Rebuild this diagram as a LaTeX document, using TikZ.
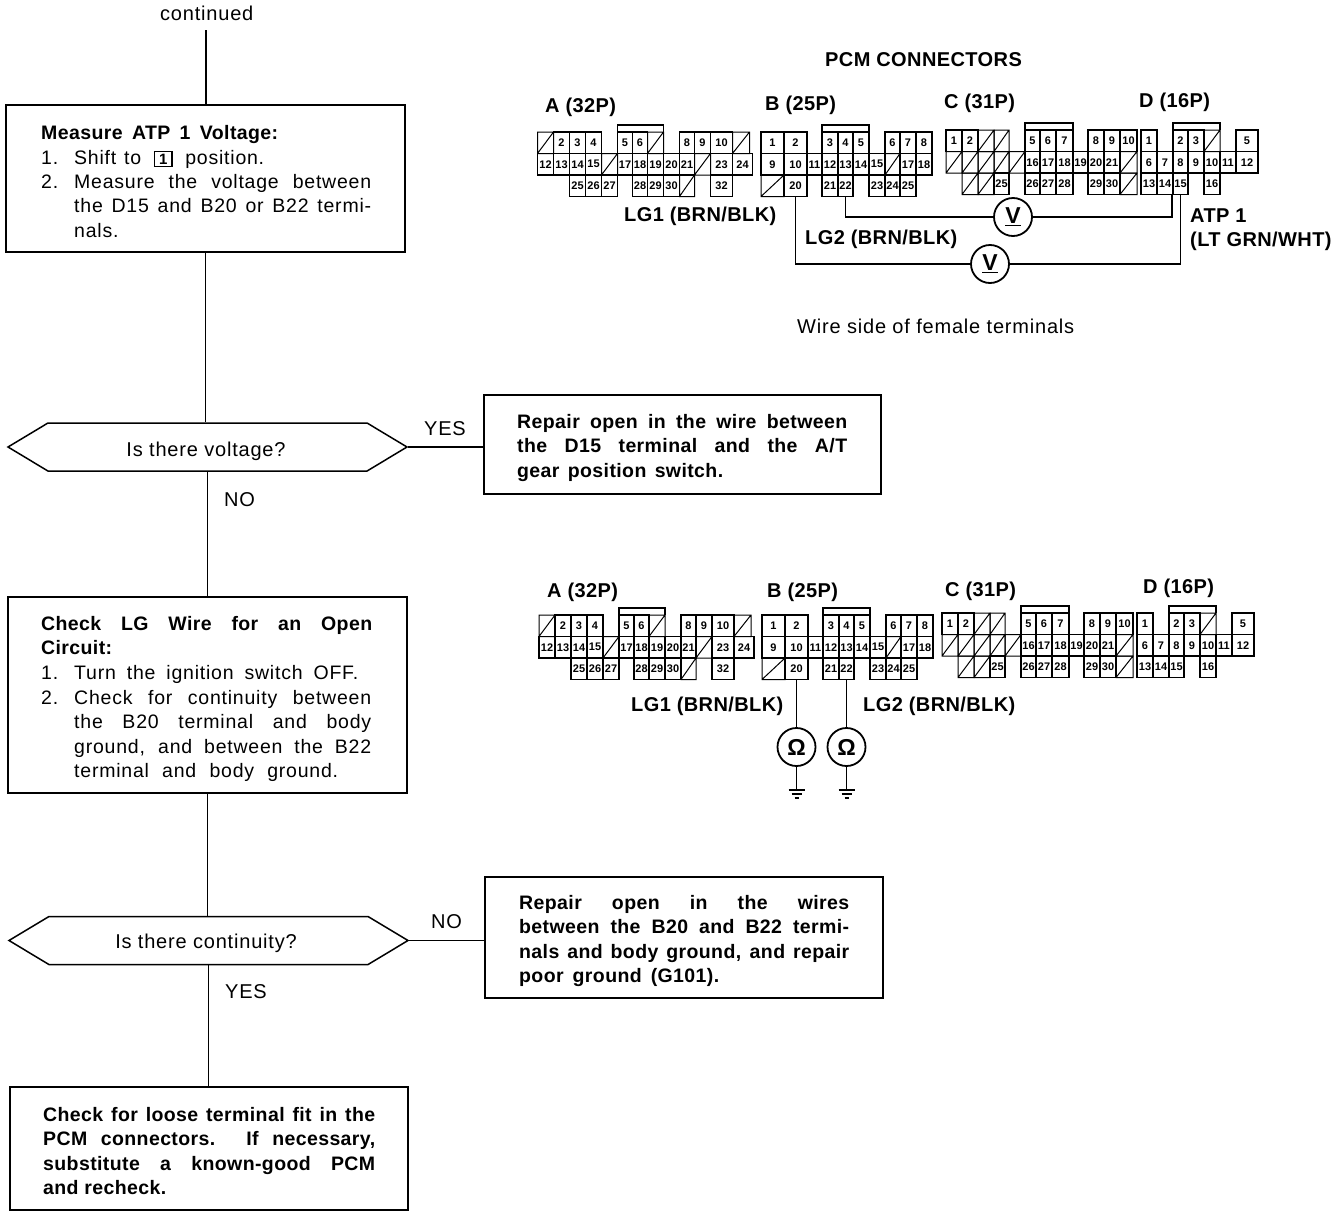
\documentclass[tikz,border=0pt]{standalone}
\usepackage{fontspec}
\setmainfont{Liberation Sans}
\newfontfamily\regx[LetterSpace=4]{Liberation Sans}
\newfontfamily\boldx[LetterSpace=2]{Liberation Sans}
\usetikzlibrary{shapes.symbols,calc}
\tikzset{
  ln/.style={line width=1.8pt,black},
  cellbox/.style={draw,line width=1.5pt,inner sep=0pt,font=\fontsize{11}{11}\bfseries\selectfont},
  slashcell/.style={line width=1pt},
  flowbox/.style={draw,line width=1.6pt,inner sep=0pt},
  decision/.style={draw,line width=1.5pt,signal,signal to=west and east,signal pointer angle=62,minimum width=399pt,minimum height=48pt,inner sep=0pt},
  body/.style={anchor=base west,inner sep=0pt,font=\fontsize{19.5}{24.6}\regx\selectfont},
  bhead/.style={anchor=base west,inner sep=0pt,font=\fontsize{19.5}{24.6}\boldx\bfseries\selectfont},
  jbody/.style={body,align=justify},
  jbold/.style={bhead,align=justify},
  label/.style={anchor=base west,inner sep=0pt,font=\fontsize{20}{24}\boldx\bfseries\selectfont},
  plain/.style={anchor=base west,inner sep=0pt,font=\fontsize{20}{24}\regx\selectfont},
  meter/.style={draw,circle,line width=1.8pt,minimum size=38pt,inner sep=0pt,font=\fontsize{23}{23}\bfseries\selectfont},
}
\newcommand{\cellat}[4]{%
  \pgfmathsetmacro{\cw}{#2-#1}\pgfmathsetmacro{\cx}{(#1+#2)/2}\pgfmathsetmacro{\cy}{(#3-0.5)*21.5}%
  \node[cellbox,minimum width=\cw pt,minimum height=21.5pt] (\cpre-#4) at (\cx,\cy) {#4};}
\newcommand{\slashat}[3]{%
  \pgfmathsetmacro{\ya}{(#3-1)*21.5}\pgfmathsetmacro{\yb}{#3*21.5}%
  \draw[slashcell] (#1,\ya) rectangle (#2,\yb) (#1,\yb) -- (#2,\ya);}
\newcommand{\topbar}[2]{\draw[line width=1.8pt] (#1,0) -- (#1,-7) -- (#2,-7) -- (#2,0);}
\newcommand{\connA}[1]{\def\cpre{#1}%
  \slashat{0}{16}{1}\cellat{16}{32}{1}{2}\cellat{32}{48}{1}{3}\cellat{48}{64}{1}{4}\cellat{80}{95}{1}{5}\cellat{95}{110}{1}{6}\slashat{110}{126}{1}\cellat{142}{157}{1}{8}\cellat{157}{173}{1}{9}\cellat{173}{195}{1}{10}\slashat{195}{212}{1}%
  \cellat{0}{16}{2}{12}\cellat{16}{32}{2}{13}\cellat{32}{48}{2}{14}\cellat{48}{64}{2}{15}\slashat{64}{80}{2}\cellat{80}{95}{2}{17}\cellat{95}{110}{2}{18}\cellat{110}{126}{2}{19}\cellat{126}{142}{2}{20}\cellat{142}{157}{2}{21}\slashat{157}{173}{2}\cellat{173}{195}{2}{23}\cellat{195}{215}{2}{24}%
  \cellat{32}{48}{3}{25}\cellat{48}{64}{3}{26}\cellat{64}{80}{3}{27}\cellat{95}{110}{3}{28}\cellat{110}{126}{3}{29}\cellat{126}{142}{3}{30}\slashat{142}{157}{3}\cellat{173}{195}{3}{32}%
  \topbar{80}{126}}
\newcommand{\connB}[1]{\def\cpre{#1}%
  \cellat{0}{23}{1}{1}\cellat{23}{46}{1}{2}\cellat{61}{77}{1}{3}\cellat{77}{92}{1}{4}\cellat{92}{108}{1}{5}\cellat{124}{139}{1}{6}\cellat{139}{155}{1}{7}\cellat{155}{171}{1}{8}%
  \cellat{0}{23}{2}{9}\cellat{23}{46}{2}{10}\cellat{46}{61}{2}{11}\cellat{61}{77}{2}{12}\cellat{77}{92}{2}{13}\cellat{92}{108}{2}{14}\cellat{108}{124}{2}{15}\slashat{124}{139}{2}\cellat{139}{155}{2}{17}\cellat{155}{171}{2}{18}%
  \slashat{0}{23}{3}\cellat{23}{46}{3}{20}\cellat{61}{77}{3}{21}\cellat{77}{92}{3}{22}\cellat{108}{124}{3}{23}\cellat{124}{139}{3}{24}\cellat{139}{155}{3}{25}%
  \topbar{61}{108}}
\newcommand{\connC}[1]{\def\cpre{#1}%
  \cellat{0}{16}{1}{1}\cellat{16}{32}{1}{2}\slashat{32}{48}{1}\slashat{48}{63}{1}\cellat{79}{94}{1}{5}\cellat{94}{110}{1}{6}\cellat{110}{127}{1}{7}\cellat{142}{158}{1}{8}\cellat{158}{174}{1}{9}\cellat{174}{191}{1}{10}%
  \slashat{0}{16}{2}\slashat{16}{32}{2}\slashat{32}{48}{2}\slashat{48}{63}{2}\slashat{63}{79}{2}\cellat{79}{94}{2}{16}\cellat{94}{110}{2}{17}\cellat{110}{127}{2}{18}\cellat{127}{142}{2}{19}\cellat{142}{158}{2}{20}\cellat{158}{174}{2}{21}\slashat{174}{191}{2}%
  \slashat{16}{32}{3}\slashat{32}{48}{3}\cellat{48}{63}{3}{25}\cellat{79}{94}{3}{26}\cellat{94}{110}{3}{27}\cellat{110}{127}{3}{28}\cellat{142}{158}{3}{29}\cellat{158}{174}{3}{30}\slashat{174}{191}{3}%
  \topbar{79}{127}}
\newcommand{\connD}[1]{\def\cpre{#1}%
  \cellat{0}{16}{1}{1}\cellat{32}{47}{1}{2}\cellat{47}{63}{1}{3}\slashat{63}{79}{1}\cellat{95}{117}{1}{5}%
  \cellat{0}{16}{2}{6}\cellat{16}{32}{2}{7}\cellat{32}{47}{2}{8}\cellat{47}{63}{2}{9}\cellat{63}{79}{2}{10}\cellat{79}{95}{2}{11}\cellat{95}{117}{2}{12}%
  \cellat{0}{16}{3}{13}\cellat{16}{32}{3}{14}\cellat{32}{47}{3}{15}\cellat{63}{79}{3}{16}%
  \topbar{32}{79}}
\newcommand{\groundat}[1]{\draw[line width=1.3pt] ($(#1)+(-8,0)$) -- ($(#1)+(8,0)$) ($(#1)+(-5,4)$) -- ($(#1)+(5,4)$) ($(#1)+(-2,8)$) -- ($(#1)+(2,8)$);}
\begin{document}
\begin{tikzpicture}[x=1pt,y=-1pt]
\useasboundingbox[fill=white] (0,0) rectangle (1344,1218);
% flow boxes
\coordinate (top) at (206,30);
\node[flowbox,minimum width=399pt,minimum height=147pt] (b1) at (205.5,178.5) {};
\node[decision] (q1) at (207.5,447) {};
\node[flowbox,minimum width=397pt,minimum height=99pt] (r1) at (682.5,444.5) {};
\node[flowbox,minimum width=399pt,minimum height=196pt] (b2) at (207.5,695) {};
\node[decision] (q2) at (208.5,940.5) {};
\node[flowbox,minimum width=398pt,minimum height=121pt] (r2) at (684,937.5) {};
\node[flowbox,minimum width=398pt,minimum height=123pt] (b3) at (209,1148.5) {};
\draw[ln] (top) -- (top|-b1.north);
\draw[ln] (b1.south) -- (b1.south|-q1.north);
\draw[ln] (q1.south) -- (q1.south|-b2.north);
\draw[ln] (b2.south) -- (b2.south|-q2.north);
\draw[ln] (q2.south) -- (q2.south|-b3.north);
\draw[ln] (q1.east) -- (q1.east-|r1.west);
\draw[ln] (q2.east) -- (q2.east-|r2.west);
% flow text
\node[plain] (t0) at (160,20) {continued};
\node[bhead] (t1) at (41,139) {\makebox[237pt][s]{Measure ATP 1 Voltage:}};
\node[body] (t1a) at (41,164) {1.};
\node[body] (t1b) at (74,164) {\makebox[190pt][s]{Shift to \hspace{5pt}{\fboxsep=1.5pt\fboxrule=1.2pt\fbox{\fontsize{15}{15}\bfseries\selectfont\,1\,}}\hspace{5pt} position.}};
\node[body] (t1c) at (41,188) {2.};
\node[jbody,text width=297pt] (t1d) at (74,188) {Measure the voltage between\linebreak the D15 and B20 or B22 termi-\linebreak nals.};
\node[plain,anchor=base] (t2) at (206,456) {Is there voltage?};
\node[plain] (t3) at (424,435) {YES};
\node[plain] (t4) at (224,506) {NO};
\node[jbold,text width=330pt] (t5) at (517,428) {Repair open in the wire between\linebreak the D15 terminal and the A/T\linebreak \makebox[206pt][s]{gear position switch.}};
\node[jbold,text width=331pt] (t6) at (41,630) {Check LG Wire for an Open\linebreak Circuit:};
\node[body] (t6a) at (41,679) {1.};
\node[body] (t6b) at (74,679) {\makebox[284pt][s]{Turn the ignition switch OFF.}};
\node[body] (t6c) at (41,704) {2.};
\node[jbody,text width=297pt] (t6d) at (74,704) {Check for continuity between\linebreak the B20 terminal and body\linebreak ground, and between the B22\linebreak \makebox[264pt][s]{terminal and body ground.}};
\node[plain,anchor=base] (t7) at (206,948) {Is there continuity?};
\node[plain] (t8) at (431,928) {NO};
\node[plain] (t9) at (225,998) {YES};
\node[jbold,text width=330pt] (t10) at (519,909) {Repair open in the wires\linebreak between the B20 and B22 termi-\linebreak nals and body ground, and repair\linebreak \makebox[200pt][s]{poor ground (G101).}};
\node[jbold,text width=332pt] (t11) at (43,1121) {Check for loose terminal fit in the\linebreak PCM connectors. If necessary,\linebreak substitute a known-good PCM\linebreak and recheck.};
% upper connectors
\node[label] (h0) at (825,66) {PCM CONNECTORS};
\node[label] (ha1) at (545,112) {A (32P)};
\node[label] (hb1) at (765,110) {B (25P)};
\node[label] (hc1) at (944,108) {C (31P)};
\node[label] (hd1) at (1139,107) {D (16P)};
\begin{scope}[shift={(537.5,132)}]\connA{a1}\end{scope}
\begin{scope}[shift={(761,132)}]\connB{b1}\end{scope}
\begin{scope}[shift={(946,130)}]\connC{c1}\end{scope}
\begin{scope}[shift={(1141,130)}]\connD{d1}\end{scope}
\node[meter] (v1) at (1013,217) {\underline{V}};
\node[meter] (v2) at (990,264) {\underline{V}};
\draw[ln] (b1-22.south) |- (v1.west);
\draw[ln] (v1.east) -| (d1-15.south west);
\draw[ln] (b1-20.south) |- (v2.west);
\draw[ln] (v2.east) -| (d1-15.south);
\node[label] (l1) at (624,221) {LG1 (BRN/BLK)};
\node[label] (l2) at (805,244) {LG2 (BRN/BLK)};
\node[label] (l3) at (1190,222) {ATP 1};
\node[label] (l4) at (1190,246) {(LT GRN/WHT)};
\node[plain] (l5) at (797,333) {Wire side of female terminals};
% lower connectors
\node[label] (ha2) at (547,597) {A (32P)};
\node[label] (hb2) at (767,597) {B (25P)};
\node[label] (hc2) at (945,596) {C (31P)};
\node[label] (hd2) at (1143,593) {D (16P)};
\begin{scope}[shift={(539,615)}]\connA{a2}\end{scope}
\begin{scope}[shift={(762,615)}]\connB{b2}\end{scope}
\begin{scope}[shift={(942,613)}]\connC{c2}\end{scope}
\begin{scope}[shift={(1137,613)}]\connD{d2}\end{scope}
\node[meter] (o1) at (796.5,747) {Ω};
\node[meter] (o2) at (846.5,747) {Ω};
\coordinate (g1) at (796.5,790);
\coordinate (g2) at (846.5,790);
\draw[ln] (b2-20.south) -- (o1.north);
\draw[ln] (b2-22.south) -- (o2.north);
\draw[ln] (o1.south) -- (g1);
\draw[ln] (o2.south) -- (g2);
\groundat{g1}\groundat{g2}
\node[label] (l6) at (631,711) {LG1 (BRN/BLK)};
\node[label] (l7) at (863,711) {LG2 (BRN/BLK)};
\end{tikzpicture}
\end{document}
